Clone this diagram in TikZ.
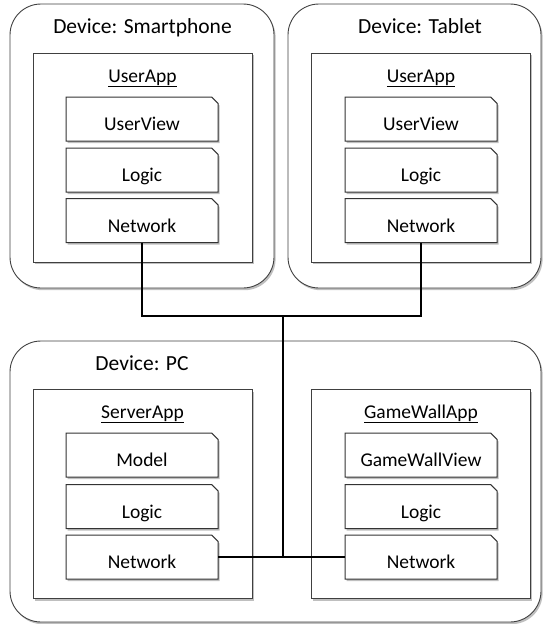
\documentclass[tikz,border=0pt]{standalone}
\usepackage{fontspec}
\setmainfont{Carlito}
\usetikzlibrary{shapes.misc,shadows}
\newcommand{\titlefont}{\fontsize{21.5}{24}\selectfont}
\newcommand{\partfont}{\fontsize{19.5}{22}\selectfont}
\tikzset{
  softshadow/.style={drop shadow={shadow xshift=1.6pt, shadow yshift=-2.2pt, fill=black, opacity=0.25}},
  device/.style={rectangle, draw=black!75, line width=0.9pt, rounded corners=31pt,
    fill=white, inner sep=0pt, outer sep=0pt, softshadow},
  appbox/.style={rectangle, draw=black!75, line width=0.9pt, fill=white,
    inner sep=0pt, outer sep=0pt, minimum width=219pt, minimum height=209pt, softshadow},
  part/.style={chamfered rectangle, chamfered rectangle corners=north east,
    chamfered rectangle xsep=3pt, chamfered rectangle ysep=3.3pt,
    draw=black!80, line width=1pt, fill=white, inner sep=0pt, outer sep=0pt,
    text height=23pt, text depth=0pt,
    minimum width=152pt, minimum height=44pt, font=\partfont, softshadow},
  devtitle/.style={font=\titlefont, inner sep=0pt, anchor=base},
  applabel/.style={font=\partfont, inner sep=0pt, anchor=base},
  wire/.style={line width=2.6pt, black},
}
\begin{document}
\begin{tikzpicture}[x=1pt, y=-1pt]
  \useasboundingbox (0,0) rectangle (543,624);

  % device frames
  \node[device, minimum width=264pt, minimum height=284pt] (phone)  at (142,146) {};
  \node[device, minimum width=253pt, minimum height=284pt] (tablet) at (414.5,146) {};
  \node[device, minimum width=531pt, minimum height=281pt] (pc)     at (275.5,481.5) {};

  \node[devtitle] (phoneT)  at (142.5,33) {Device: Smartphone};
  \node[devtitle] (tabletT) at (420,33)   {Device: Tablet};
  \node[devtitle] (pcT)     at (142,370)  {Device: PC};

  % application boxes
  \node[appbox] (phoneApp)  at (142.5,157.5) {};
  \node[appbox] (tabletApp) at (421,157.5)   {};
  \node[appbox] (serverApp) at (142.5,494)   {};
  \node[appbox] (wallApp)   at (421,494)     {};

  \node[applabel] (phoneAppL)  at (142.5,82) {\underline{UserApp}};
  \node[applabel] (tabletAppL) at (421,82)   {\underline{UserApp}};
  \node[applabel] (serverAppL) at (142.5,418) {\underline{ServerApp}};
  \node[applabel] (wallAppL)   at (421,418)   {\underline{GameWallApp}};

  % components
  \node[part] (phoneView)  at (142,119)   {UserView};
  \node[part] (phoneLogic) at (142,170)   {Logic};
  \node[part] (phoneNet)   at (142,220.5) {Network};

  \node[part] (tabletView)  at (421,119)   {UserView};
  \node[part] (tabletLogic) at (421,170)   {Logic};
  \node[part] (tabletNet)   at (421,220.5) {Network};

  \node[part] (serverModel) at (142,455)   {Model};
  \node[part] (serverLogic) at (142,506.5) {Logic};
  \node[part] (serverNet)   at (142,557)   {Network};

  \node[part] (wallView)  at (421,455)   {GameWallView};
  \node[part] (wallLogic) at (421,506.5) {Logic};
  \node[part] (wallNet)   at (421,557)   {Network};

  % network wiring
  \coordinate (hub) at (283,316);
  \draw[wire] (phoneNet.south) |- (hub) -| (tabletNet.south);
  \draw[wire] (hub) -- (hub |- serverNet.east);
  \draw[wire] (serverNet.east) -- (wallNet.west);
\end{tikzpicture}
\end{document}
